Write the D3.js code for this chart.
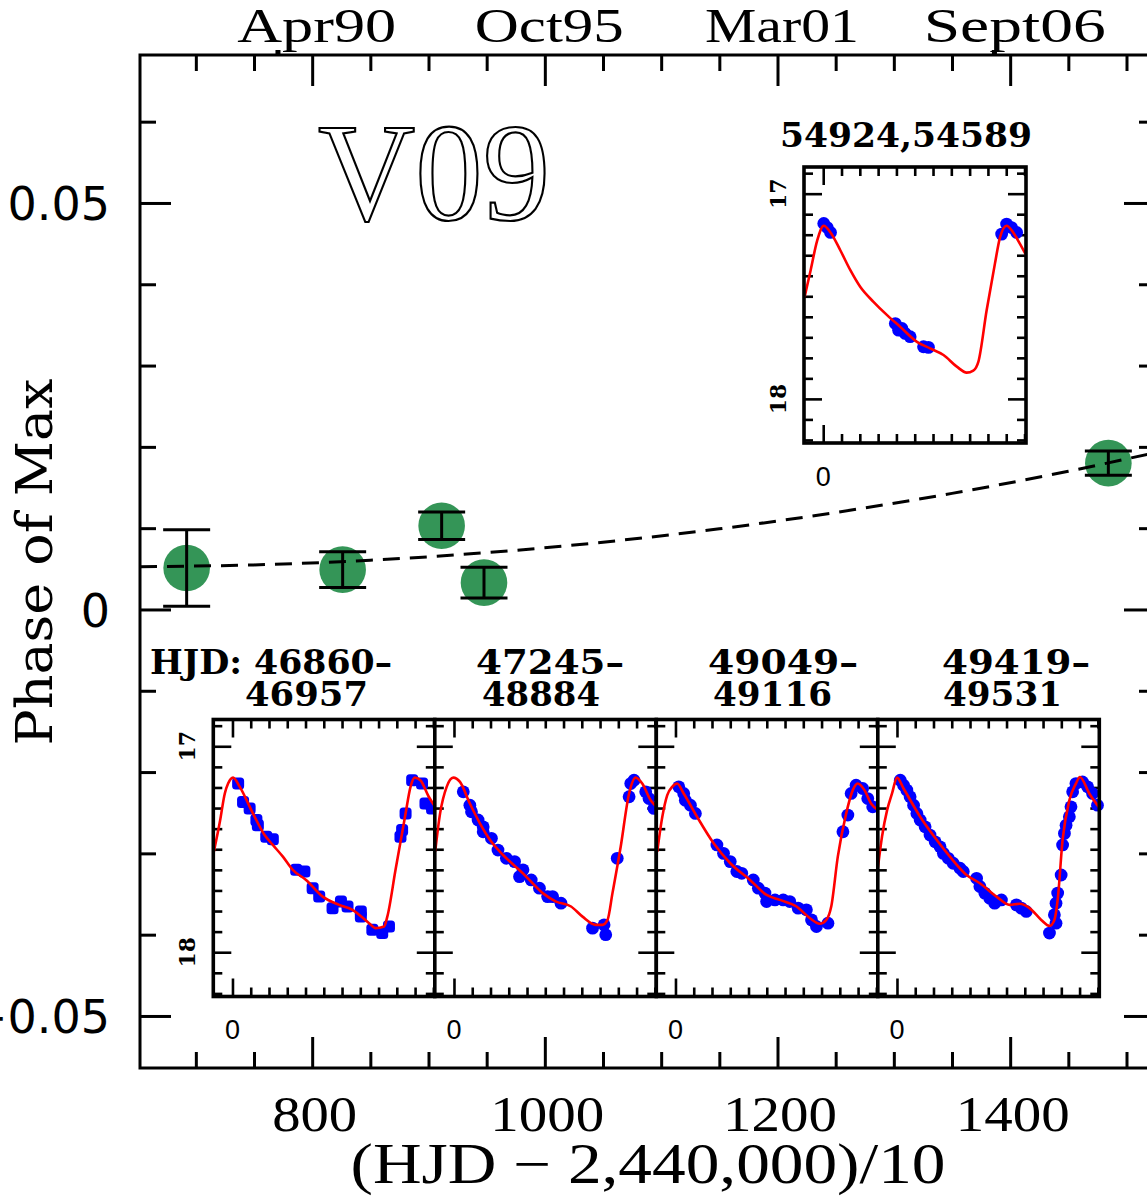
<!DOCTYPE html>
<html><head><meta charset="utf-8">
<script src="https://cdn.jsdelivr.net/npm/d3@7"></script>
<style>html,body{margin:0;padding:0;background:#fff;} svg{display:block;}</style>
</head><body>
<svg id="chart" width="1147" height="1198"></svg>
<script>
// ---------- data ----------
// epochs of maximum: (HJD - 2,440,000)/10, phase of maximum and its error
const epochT   = [692.1, 826.2, 911.3, 947.7, 1484.4];
const phaseMax = [0.0051, 0.0049, 0.0103, 0.0033, 0.0180];
const phaseErr = [0.0047, 0.0022, 0.0017, 0.0019, 0.0015];

// parabolic ephemeris correction (dashed curve)
const fitT     = [652, 750, 850, 950, 1050, 1150, 1250, 1350, 1450, 1525];
const fitPhase = [0.00526, 0.00548, 0.00606, 0.00699, 0.00828, 0.00992, 0.01193, 0.01428, 0.01700, 0.0193];

const xMajor = [800, 1000, 1200, 1400];
const xLabels = ["800", "1000", "1200", "1400"];
const dateLabels = ["Apr90", "Oct95", "Mar01", "Sept06"];
const dateMarks = [770.6, 1386.5];
const yMajor = [-0.05, 0, 0.05];
const yLabels = ["\u22120.05", "0", "0.05"];

const starName = "V09";
const panelTitles = [["HJD: 46860\u2013", "46957"], ["47245\u2013", "48884"], ["49049\u2013", "49116"], ["49419\u2013", "49531"]];
const insetTitle = "54924,54589";

// light curves: [phase, V mag]
const modelA = [[-0.102,17.512],[-0.069,17.367],[-0.042,17.229],[-0.024,17.181],[0.003,17.152],[0.040,17.197],[0.112,17.326],[0.176,17.431],[0.221,17.479],[0.276,17.536],[0.330,17.600],[0.403,17.649],[0.494,17.730],[0.584,17.770],[0.657,17.794],[0.748,17.859],[0.784,17.883],[0.830,17.875],[0.848,17.827],[0.893,17.600],[0.948,17.326],[0.975,17.197],[0.998,17.152],[1.029,17.165],[1.075,17.245],[1.110,17.294]];
const obsA = [[0.031,17.181],[0.058,17.270],[0.094,17.302],[0.131,17.358],[0.139,17.383],[0.185,17.439],[0.221,17.452],[0.349,17.600],[0.394,17.608],[0.439,17.689],[0.475,17.730],[0.548,17.786],[0.594,17.754],[0.630,17.778],[0.703,17.802],[0.703,17.827],[0.766,17.891],[0.820,17.907],[0.857,17.875],[0.920,17.439],[0.929,17.407],[0.948,17.326],[0.984,17.165],[1.038,17.181],[1.057,17.278],[1.093,17.302]];

const modelB = [[-0.103,17.512],[-0.076,17.326],[-0.040,17.197],[-0.004,17.152],[0.033,17.173],[0.087,17.278],[0.142,17.374],[0.205,17.464],[0.269,17.528],[0.378,17.617],[0.486,17.713],[0.559,17.754],[0.641,17.778],[0.704,17.827],[0.777,17.867],[0.813,17.867],[0.841,17.843],[0.868,17.713],[0.913,17.488],[0.959,17.229],[0.995,17.152],[1.031,17.181],[1.077,17.262],[1.110,17.294]];
const obsB = [[0.051,17.221],[0.087,17.286],[0.096,17.318],[0.132,17.358],[0.160,17.391],[0.160,17.415],[0.205,17.447],[0.241,17.504],[0.287,17.544],[0.332,17.560],[0.359,17.633],[0.378,17.600],[0.423,17.649],[0.468,17.689],[0.513,17.730],[0.540,17.730],[0.586,17.762],[0.759,17.883],[0.822,17.867],[0.831,17.915],[0.894,17.544],[0.959,17.245],[0.968,17.181],[0.986,17.165],[1.050,17.221],[1.068,17.254],[1.095,17.302]];

const modelC = [[-0.100,17.512],[-0.072,17.342],[-0.045,17.237],[-0.018,17.197],[0.009,17.181],[0.045,17.229],[0.118,17.342],[0.209,17.471],[0.300,17.568],[0.408,17.649],[0.499,17.722],[0.572,17.746],[0.663,17.778],[0.735,17.834],[0.790,17.862],[0.826,17.843],[0.853,17.778],[0.889,17.536],[0.935,17.326],[0.971,17.213],[0.998,17.181],[1.035,17.213],[1.071,17.278],[1.110,17.310]];
const obsC = [[0.018,17.197],[0.045,17.229],[0.054,17.262],[0.082,17.286],[0.109,17.326],[0.227,17.479],[0.263,17.520],[0.300,17.560],[0.336,17.608],[0.363,17.617],[0.426,17.649],[0.454,17.689],[0.490,17.713],[0.499,17.754],[0.545,17.746],[0.590,17.746],[0.626,17.754],[0.672,17.786],[0.717,17.794],[0.745,17.843],[0.772,17.875],[0.835,17.859],[0.917,17.415],[0.944,17.334],[0.962,17.229],[0.989,17.189],[1.025,17.205],[1.053,17.254],[1.080,17.294]];

const modelD = [[-0.106,17.600],[-0.082,17.439],[-0.054,17.310],[-0.027,17.229],[0.000,17.152],[0.036,17.205],[0.127,17.342],[0.218,17.455],[0.290,17.536],[0.381,17.625],[0.454,17.665],[0.545,17.730],[0.617,17.770],[0.672,17.765],[0.726,17.786],[0.790,17.843],[0.835,17.872],[0.862,17.843],[0.880,17.746],[0.907,17.455],[0.944,17.262],[0.980,17.181],[1.002,17.149],[1.053,17.229],[1.110,17.300]];
const obsD = [[0.018,17.165],[0.036,17.189],[0.054,17.213],[0.072,17.245],[0.091,17.286],[0.109,17.326],[0.127,17.358],[0.154,17.391],[0.181,17.431],[0.209,17.464],[0.236,17.488],[0.254,17.520],[0.281,17.544],[0.308,17.568],[0.345,17.592],[0.363,17.608],[0.436,17.641],[0.454,17.681],[0.481,17.713],[0.508,17.738],[0.535,17.762],[0.572,17.746],[0.654,17.770],[0.681,17.786],[0.708,17.802],[0.835,17.907],[0.871,17.859],[0.862,17.818],[0.871,17.762],[0.880,17.713],[0.899,17.625],[0.907,17.479],[0.917,17.423],[0.926,17.383],[0.944,17.342],[0.953,17.294],[0.962,17.221],[0.980,17.181],[1.016,17.173],[1.044,17.197],[1.071,17.229],[1.098,17.286]];

const modelE = [[-0.102,17.504],[-0.069,17.374],[-0.033,17.229],[0.003,17.156],[0.040,17.189],[0.094,17.277],[0.149,17.374],[0.203,17.455],[0.276,17.528],[0.349,17.592],[0.421,17.649],[0.512,17.722],[0.584,17.754],[0.657,17.786],[0.730,17.843],[0.784,17.872],[0.820,17.862],[0.848,17.818],[0.893,17.568],[0.938,17.342],[0.966,17.213],[1.002,17.156],[1.038,17.189],[1.075,17.245],[1.110,17.302]];
const obsE = [[0.003,17.145],[0.022,17.165],[0.040,17.189],[0.394,17.633],[0.412,17.665],[0.430,17.657],[0.448,17.681],[0.475,17.697],[0.548,17.746],[0.575,17.749],[0.975,17.197],[1.002,17.148],[1.029,17.165],[1.057,17.189]];

// ---------- layout ----------
const svg = d3.select("#chart");
const W = 1147, H = 1198;
const plotL = 140, plotR = 1155, plotT = 55, plotB = 1068;
const x = d3.scaleLinear().domain([652, 1524.5]).range([plotL, plotR]);
const y = d3.scaleLinear().domain([-0.0564, 0.0682]).range([plotB, plotT]);
const INK = "#000", GREEN = "#349557";
const serif = "'Liberation Serif','Times New Roman',serif";
const dserif = "'DejaVu Serif',serif";
const sans = "'DejaVu Sans',sans-serif";

svg.append("rect").attr("width", W).attr("height", H).attr("fill", "#fff");

// ---------- main axes ----------
const xMinor = d3.range(700, 1525, 50).filter(v => !xMajor.includes(v));
const yMinor = d3.range(-5, 7).map(k => k / 100).filter(v => !yMajor.some(m => Math.abs(m - v) < 1e-9));

function styleAxis(g) {
  g.select(".domain").remove();
  g.selectAll("line").attr("stroke", INK).attr("stroke-width", 3);
}
// bottom
svg.append("g").attr("transform", `translate(0,${plotB})`)
  .call(d3.axisTop(x).tickValues(xMinor).tickSize(16).tickFormat("")).call(styleAxis);
const xb = svg.append("g").attr("transform", `translate(0,${plotB})`)
  .call(d3.axisTop(x).tickValues(xMajor).tickSize(31).tickFormat((d, i) => xLabels[i])).call(styleAxis);
xb.selectAll("text").attr("y", 63).attr("dy", 0).attr("x", 2)
  .attr("font-family", serif).attr("font-size", 50).attr("fill", INK)
  .attr("textLength", (d, i) => xLabels[i].length === 3 ? 85 : 114).attr("lengthAdjust", "spacingAndGlyphs");
// top
svg.append("g").attr("transform", `translate(0,${plotT})`)
  .call(d3.axisBottom(x).tickValues(xMinor).tickSize(16).tickFormat("")).call(styleAxis);
const xt = svg.append("g").attr("transform", `translate(0,${plotT})`)
  .call(d3.axisBottom(x).tickValues(xMajor).tickSize(31).tickFormat((d, i) => dateLabels[i])).call(styleAxis);
const dateW = [159, 149, 154, 182];
xt.selectAll("text").attr("y", -13).attr("dy", 0).attr("x", 4)
  .attr("font-family", serif).attr("font-size", 48).attr("fill", INK)
  .attr("textLength", (d, i) => dateW[i]).attr("lengthAdjust", "spacingAndGlyphs");
svg.append("g").selectAll("rect").data(dateMarks).join("rect")
  .attr("x", d => x(d) - 2.5).attr("y", plotT - 5).attr("width", 5).attr("height", 5).attr("fill", INK);
// left
svg.append("g").attr("transform", `translate(${plotL},0)`)
  .call(d3.axisRight(y).tickValues(yMinor).tickSize(16).tickFormat("")).call(styleAxis);
const yl = svg.append("g").attr("transform", `translate(${plotL},0)`)
  .call(d3.axisRight(y).tickValues(yMajor).tickSize(31).tickFormat((d, i) => yLabels[i])).call(styleAxis);
yl.selectAll("text").attr("x", -30).attr("text-anchor", "end").attr("dy", "0.36em")
  .attr("font-family", sans).attr("font-size", 46).attr("fill", INK);
// right
svg.append("g").attr("transform", `translate(${plotR},0)`)
  .call(d3.axisLeft(y).tickValues(yMinor).tickSize(16).tickFormat("")).call(styleAxis);
svg.append("g").attr("transform", `translate(${plotR},0)`)
  .call(d3.axisLeft(y).tickValues(yMajor).tickSize(31).tickFormat("")).call(styleAxis);
// frame
svg.append("rect").attr("x", plotL).attr("y", plotT).attr("width", plotR - plotL).attr("height", plotB - plotT)
  .attr("fill", "none").attr("stroke", INK).attr("stroke-width", 3);

// axis titles
svg.append("text").attr("x", 648).attr("y", 1183).attr("text-anchor", "middle")
  .attr("font-family", serif).attr("font-size", 56).attr("fill", INK)
  .attr("textLength", 595).attr("lengthAdjust", "spacingAndGlyphs")
  .text("(HJD \u2212 2,440,000)/10");
svg.append("text").attr("transform", "translate(52,562) rotate(-90)").attr("text-anchor", "middle")
  .attr("font-family", dserif).attr("font-size", 50).attr("fill", INK)
  .attr("textLength", 367).attr("lengthAdjust", "spacingAndGlyphs")
  .text("Phase of Max");

// star name
svg.append("text").attr("x", 318).attr("y", 220)
  .attr("font-family", serif).attr("font-size", 139).attr("fill", "#fff")
  .attr("stroke", INK).attr("stroke-width", 2.2)
  .attr("textLength", 232).attr("lengthAdjust", "spacingAndGlyphs")
  .text(starName);

// ---------- O-C points ----------
const pts = epochT.map((t, i) => ({ t, p: phaseMax[i], e: phaseErr[i] }));
svg.append("g").selectAll("circle").data(pts).join("circle")
  .attr("cx", d => x(d.t)).attr("cy", d => y(d.p)).attr("r", 23.3).attr("fill", GREEN);

svg.append("path")
  .datum(fitT.map((t, i) => [t, fitPhase[i]]))
  .attr("d", d3.line().x(d => x(d[0])).y(d => y(d[1])).curve(d3.curveMonotoneX))
  .attr("fill", "none").attr("stroke", INK).attr("stroke-width", 3).attr("stroke-dasharray", "17,10");

const eb = svg.append("g").attr("stroke", INK).attr("stroke-width", 3);
pts.forEach(d => {
  const cx = x(d.t), y1 = y(d.p + d.e), y2 = y(d.p - d.e);
  eb.append("line").attr("x1", cx).attr("x2", cx).attr("y1", y1).attr("y2", y2);
  eb.append("line").attr("x1", cx - 23.5).attr("x2", cx + 23.5).attr("y1", y1).attr("y2", y1);
  eb.append("line").attr("x1", cx - 23.5).attr("x2", cx + 23.5).attr("y1", y2).attr("y2", y2);
});

// ---------- light-curve panels ----------
let clipId = 0;
function drawPanel(x0, y0, w, h, model, obs, opts) {
  const g = svg.append("g");
  const px = d3.scaleLinear().domain([-0.105, 1.108]).range([x0, x0 + w]);
  const py = d3.scaleLinear().domain([16.87, 18.215]).range([y0, y0 + h]);
  g.append("rect").attr("x", x0).attr("y", y0).attr("width", w).attr("height", h).attr("fill", "#fff");

  const xMin = d3.range(1, 12).map(k => k / 10);
  const yMin = d3.range(169, 183).map(k => k / 10).filter(v => Math.abs(v - 17) > 1e-9 && Math.abs(v - 18) > 1e-9);
  const tick = (axis, tx, ty, vals, len) => g.append("g").attr("transform", `translate(${tx},${ty})`)
    .call(axis.tickValues(vals).tickSize(len).tickFormat("")).call(gg => {
      gg.select(".domain").remove();
      gg.selectAll("line").attr("stroke", INK).attr("stroke-width", 2.6);
    });
  tick(d3.axisTop(px), 0, y0 + h, xMin, 9);
  tick(d3.axisTop(px), 0, y0 + h, [0], 18);
  tick(d3.axisBottom(px), 0, y0, xMin, 9);
  tick(d3.axisBottom(px), 0, y0, [0], 18);
  tick(d3.axisRight(py), x0, 0, yMin, 9);
  tick(d3.axisRight(py), x0, 0, [17, 18], 18);
  tick(d3.axisLeft(py), x0 + w, 0, yMin, 9);
  tick(d3.axisLeft(py), x0 + w, 0, [17, 18], 18);

  const id = "clip" + (clipId++);
  svg.append("clipPath").attr("id", id).append("rect").attr("x", x0).attr("y", y0).attr("width", w).attr("height", h);

  // observations
  const og = g.append("g").attr("fill", "#0000ff");
  if (opts.square) {
    og.selectAll("rect").data(obs).join("rect")
      .attr("x", d => px(d[0]) - 6).attr("y", d => py(d[1]) - 6)
      .attr("width", 12).attr("height", 12).attr("rx", 3.5);
  } else {
    og.selectAll("circle").data(obs).join("circle")
      .attr("cx", d => px(d[0])).attr("cy", d => py(d[1])).attr("r", 6.4);
  }
  // template fit
  g.append("path").datum(model).attr("clip-path", `url(#${id})`)
    .attr("d", d3.line().x(d => px(d[0])).y(d => py(d[1])).curve(d3.curveMonotoneX))
    .attr("fill", "none").attr("stroke", "#ff0000").attr("stroke-width", 2.6);

  g.append("rect").attr("x", x0).attr("y", y0).attr("width", w).attr("height", h)
    .attr("fill", "none").attr("stroke", INK).attr("stroke-width", 3.6);

  g.append("text").attr("x", px(0)).attr("y", y0 + h + 33).attr("dy", "0.36em").attr("text-anchor", "middle")
    .attr("font-family", "'Liberation Sans',sans-serif").attr("font-size", 27).attr("fill", INK).text("0");
  if (opts.magLabels) {
    [17, 18].forEach(m => {
      g.append("text").attr("transform", `translate(${x0 - 18},${py(m)}) rotate(-90)`).attr("text-anchor", "middle")
        .attr("font-family", dserif).attr("font-weight", "bold").attr("font-size", 22).attr("fill", INK).text(String(m));
    });
  }
  return px;
}

const panelW = 221.5, panelH = 277, panelTop = 719.5, panelLeft = 213.3;
const models = [modelA, modelB, modelC, modelD];
const obsSets = [obsA, obsB, obsC, obsD];
models.forEach((m, i) => drawPanel(panelLeft + i * panelW, panelTop, panelW, panelH, m, obsSets[i],
  { square: i === 0, magLabels: i === 0 }));
drawPanel(804, 167, 222, 276, modelE, obsE, { square: false, magLabels: true });

// panel titles
const titleX1 = [150, 476, 708, 942], titleX2 = [245, 482, 713, 943];
const titleW1 = [242, 148, 150, 148], titleW2 = [123, 118, 119, 119];
const tf = g => g.attr("font-family", dserif).attr("font-weight", "bold").attr("font-size", 34).attr("fill", INK)
  .attr("lengthAdjust", "spacingAndGlyphs");
panelTitles.forEach((t, i) => {
  svg.append("text").attr("x", titleX1[i]).attr("y", 674).attr("textLength", titleW1[i]).call(tf).text(t[0]);
  svg.append("text").attr("x", titleX2[i]).attr("y", 706).attr("textLength", titleW2[i]).call(tf).text(t[1]);
});
svg.append("text").attr("x", 780).attr("y", 147).attr("textLength", 252).call(tf).text(insetTitle);
</script>
</body></html>
